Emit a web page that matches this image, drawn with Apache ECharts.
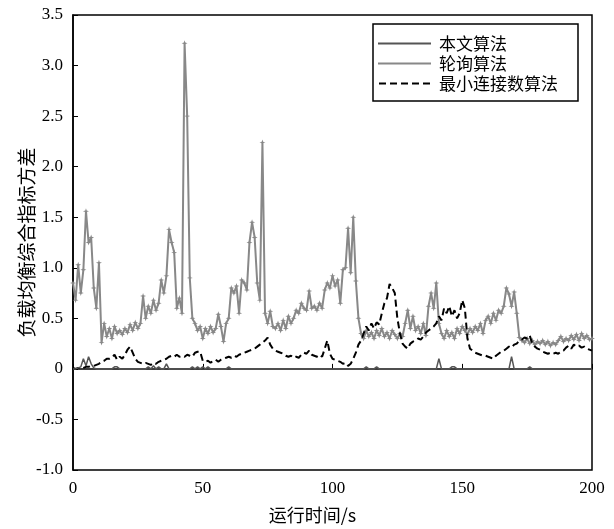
<!DOCTYPE html>
<html>
<head>
<meta charset="utf-8">
<script src="https://cdn.jsdelivr.net/npm/echarts@6/dist/echarts.min.js"></script>
<style>
	html, body { margin: 0; padding: 0; background: #fff; }
	#mychart { width: 614px; height: 529px; }
</style>
</head>
<body>
<div id="mychart"></div>
<script>
// 运行时间 0..200 s，每秒一个采样点
var times = [];
for (var t = 0; t <= 200; t++) times.push(t);

var seriesNames = ['本文算法', '轮询算法', '最小连接数算法'];

// 本文算法
var oursData = [
	0, 0, 0.01, 0.02, 0.10, 0.03, 0.12, 0.05, 0.01, 0,
	0, 0, 0, 0, 0, 0, 0.02, 0.02, 0, 0,
	0, 0, 0, 0, 0, 0, 0, 0, 0, 0.02,
	0, 0.03, 0, 0.02, 0, 0, 0.05, 0, 0, 0,
	0, 0, 0, 0, 0, 0, 0.02, 0, 0.02, 0,
	0.02, 0, 0.02, 0, 0, 0, 0, 0, 0, 0,
	0.02, 0, 0, 0, 0, 0, 0, 0, 0, 0,
	0, 0, 0, 0, 0, 0, 0, 0, 0, 0,
	0, 0, 0, 0, 0, 0, 0, 0, 0, 0,
	0, 0, 0, 0, 0, 0, 0, 0, 0, 0,
	0, 0, 0, 0, 0, 0, 0, 0, 0, 0,
	0, 0, 0, 0.02, 0, 0, 0, 0.02, 0, 0,
	0, 0, 0, 0, 0, 0, 0, 0, 0, 0,
	0, 0, 0, 0, 0, 0, 0, 0, 0, 0,
	0, 0.10, 0, 0, 0, 0, 0.02, 0.02, 0, 0,
	0, 0, 0, 0, 0, 0, 0, 0, 0, 0,
	0, 0, 0, 0, 0, 0, 0, 0, 0, 0.12,
	0, 0, 0, 0, 0, 0, 0.02, 0, 0, 0,
	0, 0, 0, 0, 0, 0, 0, 0, 0, 0,
	0, 0, 0, 0, 0, 0, 0, 0, 0, 0,
	0
];

// 轮询算法
var pollData = [
	0.85, 0.68, 1.03, 0.75, 0.98, 1.56, 1.25, 1.30, 0.80, 0.60,
	1.05, 0.26, 0.45, 0.32, 0.40, 0.30, 0.42, 0.35, 0.38, 0.34,
	0.40, 0.36, 0.44, 0.38, 0.46, 0.40, 0.45, 0.72, 0.50, 0.62,
	0.55, 0.68, 0.58, 0.65, 0.88, 0.75, 0.92, 1.38, 1.25, 1.15,
	0.60, 0.70, 0.55, 3.22, 2.50, 0.90, 0.50, 0.45, 0.38, 0.42,
	0.30, 0.40, 0.35, 0.42, 0.36, 0.40, 0.54, 0.42, 0.27, 0.45,
	0.50, 0.80, 0.75, 0.82, 0.55, 0.88, 0.85, 0.78, 1.25, 1.45,
	1.30, 0.85, 0.68, 2.24, 0.55, 0.45, 0.57, 0.42, 0.40, 0.45,
	0.38, 0.48, 0.40, 0.52, 0.45, 0.50, 0.58, 0.55, 0.65, 0.60,
	0.58, 0.77, 0.60, 0.62, 0.58, 0.65, 0.60, 0.78, 0.85, 0.80,
	0.92, 0.82, 0.88, 0.65, 0.98, 1.00, 1.39, 0.95, 1.50, 0.87,
	0.50, 0.35, 0.30, 0.38, 0.32, 0.36, 0.30, 0.38, 0.33, 0.40,
	0.32, 0.36, 0.30, 0.38, 0.34, 0.30, 0.35, 0.32, 0.45, 0.58,
	0.40, 0.52, 0.38, 0.42, 0.35, 0.45, 0.33, 0.62, 0.75, 0.60,
	0.85, 0.45, 0.35, 0.30, 0.38, 0.32, 0.36, 0.30, 0.40, 0.35,
	0.42, 0.38, 0.34, 0.40, 0.36, 0.42, 0.38, 0.45, 0.35, 0.48,
	0.52, 0.45, 0.55, 0.48, 0.58, 0.55, 0.62, 0.80, 0.74, 0.62,
	0.76, 0.55, 0.31, 0.28, 0.26, 0.30, 0.25, 0.28, 0.24, 0.27,
	0.25, 0.28, 0.24, 0.27, 0.23, 0.26, 0.24, 0.28, 0.32, 0.27,
	0.30, 0.28, 0.33, 0.29, 0.34, 0.28, 0.35, 0.30, 0.33, 0.29,
	0.30
];

// 最小连接数算法
var leastConnData = [
	0.01, 0.00, 0.01, 0.00, 0.01, 0.02, 0.02, 0.03, 0.03, 0.04,
	0.05, 0.07, 0.08, 0.10, 0.10, 0.11, 0.14, 0.09, 0.12, 0.10,
	0.14, 0.19, 0.22, 0.16, 0.10, 0.07, 0.06, 0.05, 0.06, 0.05,
	0.04, 0.06, 0.05, 0.07, 0.08, 0.09, 0.10, 0.12, 0.13, 0.12,
	0.14, 0.12, 0.13, 0.12, 0.14, 0.13, 0.12, 0.16, 0.17, 0.17,
	0.08, 0.07, 0.08, 0.06, 0.08, 0.09, 0.07, 0.09, 0.10, 0.11,
	0.12, 0.11, 0.13, 0.12, 0.14, 0.15, 0.16, 0.17, 0.18, 0.19,
	0.20, 0.22, 0.24, 0.26, 0.28, 0.31, 0.24, 0.20, 0.18, 0.17,
	0.16, 0.15, 0.13, 0.12, 0.13, 0.11, 0.12, 0.11, 0.14, 0.16,
	0.15, 0.18, 0.14, 0.13, 0.12, 0.14, 0.12, 0.20, 0.28, 0.15,
	0.10, 0.09, 0.08, 0.07, 0.05, 0.06, 0.03, 0.05, 0.10, 0.16,
	0.24, 0.28, 0.35, 0.42, 0.38, 0.45, 0.40, 0.46, 0.44, 0.55,
	0.65, 0.70, 0.84, 0.80, 0.75, 0.50, 0.35, 0.25, 0.22, 0.20,
	0.25, 0.27, 0.28, 0.30, 0.29, 0.32, 0.36, 0.38, 0.40, 0.42,
	0.45, 0.52, 0.48, 0.60, 0.55, 0.62, 0.52, 0.58, 0.50, 0.55,
	0.68, 0.60, 0.30, 0.20, 0.18, 0.16, 0.15, 0.14, 0.13, 0.13,
	0.12, 0.11, 0.10, 0.13, 0.15, 0.17, 0.18, 0.20, 0.22, 0.21,
	0.24, 0.25, 0.28, 0.29, 0.31, 0.30, 0.33, 0.25, 0.22, 0.20,
	0.19, 0.17, 0.16, 0.15, 0.16, 0.15, 0.16, 0.15, 0.17, 0.18,
	0.21, 0.23, 0.20, 0.24, 0.22, 0.23, 0.21, 0.22, 0.20, 0.19,
	0.18
];

function pairs(vals) {
	var out = [];
	for (var i = 0; i < times.length; i++) out.push([times[i], vals[i]]);
	return out;
}

var serifFont = '"Liberation Serif", "Noto Sans CJK SC", serif';
var cjkFont = '"Noto Sans CJK SC", "Liberation Serif", sans-serif';

// 图例线条图标（M0,0 M0,14 撑开包围盒，保持线条细）
var solidIcon = 'path://M0,0M0,14M0,6h53v2h-53z';
var dashIcon = 'path://M0,0M0,14M0,6h7v2h-7zM11,6h7v2h-7zM22,6h7v2h-7zM33,6h7v2h-7zM44,6h7v2h-7z';

var myChart = echarts.init(document.getElementById('mychart'));
var option = {
	animation: false,
	backgroundColor: '#fff',
	grid: {
		left: 73,
		right: 22,
		top: 15,
		bottom: 55,
		show: true,
		borderColor: '#000',
		borderWidth: 1.5
	},
	legend: {
		orient: 'vertical',
		left: 373,
		top: 24,
		padding: [11, 20, 9, 5],
		itemGap: 3,
		itemWidth: 53,
		itemHeight: 14,
		borderColor: '#000',
		borderWidth: 1.5,
		backgroundColor: '#fff',
		textStyle: {
			fontFamily: cjkFont,
			fontSize: 17,
			color: '#000',
			padding: [0, 0, 0, 3]
		},
		data: [
			{ name: seriesNames[0], icon: solidIcon, itemStyle: { color: '#555' } },
			{ name: seriesNames[1], icon: solidIcon, itemStyle: { color: '#888' } },
			{ name: seriesNames[2], icon: dashIcon, itemStyle: { color: '#000' } }
		]
	},
	xAxis: {
		type: 'value',
		min: 0,
		max: 200,
		interval: 50,
		name: '运行时间/s',
		nameLocation: 'middle',
		nameGap: 36,
		nameTextStyle: {
			fontFamily: cjkFont,
			fontSize: 18,
			color: '#000',
			padding: [0, 40, 0, 0]
		},
		axisLine: { lineStyle: { color: '#000', width: 1.5 } },
		axisTick: { inside: true, length: 5, lineStyle: { color: '#000' } },
		axisLabel: {
			fontFamily: serifFont,
			fontSize: 17,
			color: '#000',
			margin: 10
		},
		splitLine: { show: false }
	},
	yAxis: {
		type: 'value',
		min: -1,
		max: 3.5,
		interval: 0.5,
		name: '负载均衡综合指标方差',
		nameLocation: 'middle',
		nameGap: 37,
		nameMoveOverlap: false,
		nameTextStyle: {
			fontFamily: cjkFont,
			fontSize: 19,
			color: '#000'
		},
		axisLine: { lineStyle: { color: '#000', width: 1.5 } },
		axisTick: { inside: true, length: 5, lineStyle: { color: '#000' } },
		axisLabel: {
			fontFamily: serifFont,
			fontSize: 17,
			color: '#000',
			margin: 10,
			formatter: function(v) {
				return v === 0 ? '0' : v.toFixed(1);
			}
		},
		splitLine: { show: false }
	},
	series: [
		{
			name: seriesNames[1],
			type: 'line',
			data: pairs(pollData),
			symbol: 'path://M0,-5L1.2,-1.2L5,0L1.2,1.2L0,5L-1.2,1.2L-5,0L-1.2,-1.2Z',
			symbolSize: 6,
			showSymbol: true,
			color: '#888',
			itemStyle: { color: '#888' },
			lineStyle: { color: '#888', width: 2 },
			z: 2
		},
		{
			name: seriesNames[2],
			type: 'line',
			data: pairs(leastConnData),
			symbol: 'none',
			color: '#000',
			lineStyle: { color: '#000', width: 2, type: [7, 4] },
			z: 3
		},
		{
			name: seriesNames[0],
			type: 'line',
			data: pairs(oursData),
			symbol: 'none',
			color: '#555',
			lineStyle: { color: '#555', width: 1.5 },
			z: 4
		}
	]
};
myChart.setOption(option);
</script>
</body>
</html>
